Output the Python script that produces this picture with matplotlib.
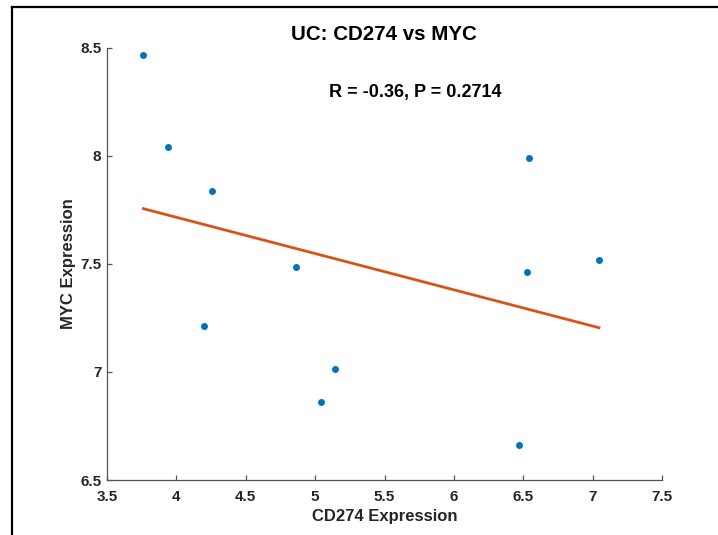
import numpy as np
import matplotlib
matplotlib.use("Agg")
import matplotlib.pyplot as plt
from matplotlib.lines import Line2D

# CD274 / MYC expression per UC sample
cd274 = [3.762, 3.937, 4.259, 4.865, 4.201, 5.146, 5.042, 6.541, 6.527, 7.046, 6.467]
myc = [8.468, 8.039, 7.837, 7.487, 7.212, 7.014, 6.861, 7.991, 7.463, 7.520, 6.664]

x_ticks = [3.5, 4, 4.5, 5, 5.5, 6, 6.5, 7, 7.5]
x_tick_labels = ['3.5', '4', '4.5', '5', '5.5', '6', '6.5', '7', '7.5']
y_ticks = [6.5, 7, 7.5, 8, 8.5]
y_tick_labels = ['6.5', '7', '7.5', '8', '8.5']

stats_text = 'R = -0.36, P = 0.2714'

plt.rcParams['font.family'] = ['Liberation Sans', 'DejaVu Sans']
plt.rcParams['font.weight'] = 'bold'

W, H = 718, 535
fig = plt.figure(figsize=(W / 100, H / 100), dpi=100)
ax = fig.add_axes([107 / W, 1 - 480 / H, (662 - 107) / W, (480 - 47.7) / H])

x = np.array(cd274)
y = np.array(myc)
slope, intercept = np.polyfit(x, y, 1)
xs = np.array([x.min(), x.max()])

ax.plot(x, y, 'o', color='#0072BD', markersize=5, markeredgewidth=0)
ax.plot(xs, slope * xs + intercept, '-', color='#D95319', linewidth=2)

ax.set_xlim(3.5, 7.5)
ax.set_ylim(6.5, 8.5)
ax.set_xticks(x_ticks)
ax.set_xticklabels(x_tick_labels)
ax.set_yticks(y_ticks)
ax.set_yticklabels(y_tick_labels)

axis_col = '#555555'
for side in ['top', 'right']:
    ax.spines[side].set_visible(False)
for side in ['left', 'bottom']:
    ax.spines[side].set_color(axis_col)
    ax.spines[side].set_linewidth(0.9)
ax.tick_params(direction='in', length=3.6, width=0.9, color=axis_col,
               labelsize=11, labelcolor='#262626')
ax.tick_params(axis='x', pad=7)
ax.tick_params(axis='y', pad=4)
for lbl in ax.get_xticklabels() + ax.get_yticklabels():
    lbl.set_fontweight('bold')

ax.set_xlabel('CD274 Expression', fontsize=12, fontweight='bold',
              color='#262626', labelpad=4)
ax.set_ylabel('MYC Expression', fontsize=12, fontweight='bold',
              color='#262626', labelpad=3)

fig.text(383.5 / W, 1 - 34 / H, 'UC: CD274 vs MYC', fontsize=14.8,
         fontweight='bold', ha='center', va='center', color='black')
fig.text(415 / W, 1 - 92 / H, stats_text, fontsize=13,
         fontweight='bold', ha='center', va='center', color='black')

# screenshot frame on the top and left edges
fig.add_artist(Line2D([12 / W, 1], [1 - 7 / H, 1 - 7 / H],
                      transform=fig.transFigure, color='black', linewidth=1.6))
fig.add_artist(Line2D([12 / W, 12 / W], [1 - 7 / H, 0],
                      transform=fig.transFigure, color='black', linewidth=1.6))

fig.savefig('out.png', dpi=100)
